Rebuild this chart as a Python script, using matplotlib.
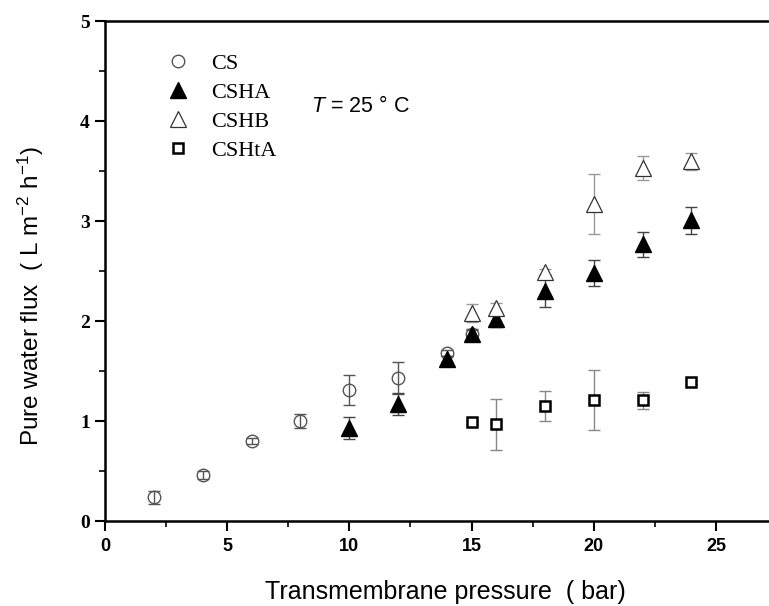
import matplotlib
matplotlib.use("Agg")
import matplotlib.pyplot as plt
from matplotlib.ticker import MultipleLocator

plt.rcParams['mathtext.fontset'] = 'custom'
plt.rcParams['mathtext.rm'] = 'Liberation Sans'
plt.rcParams['mathtext.it'] = 'Liberation Sans:italic'
plt.rcParams['font.family'] = ['Liberation Sans', 'DejaVu Sans']

# Data
cs_x = [2, 4, 6, 8, 10, 12, 14, 15]
cs_y = [0.24, 0.46, 0.80, 1.00, 1.31, 1.43, 1.68, 1.87]
cs_e = [0.065, 0.04, 0.03, 0.07, 0.15, 0.16, 0.03, 0.04]

csha_x = [10, 12, 14, 15, 16, 18, 20, 22, 24]
csha_y = [0.93, 1.17, 1.62, 1.87, 2.02, 2.30, 2.48, 2.77, 3.01]
csha_e = [0.11, 0.11, 0.03, 0.05, 0.08, 0.16, 0.13, 0.125, 0.135]

cshb_x = [15, 16, 18, 20, 22, 24]
cshb_y = [2.08, 2.13, 2.49, 3.17, 3.53, 3.60]
cshb_e = [0.09, 0.05, 0.03, 0.30, 0.12, 0.085]

cshta_x = [15, 16, 18, 20, 22, 24]
cshta_y = [0.99, 0.97, 1.15, 1.21, 1.21, 1.39]
cshta_e = [0.02, 0.255, 0.15, 0.30, 0.085, 0.02]

labels = ['CS', 'CSHA', 'CSHB', 'CSHtA']

fig = plt.figure(figsize=(7.69, 6.06), dpi=100)
ax = fig.add_axes([105 / 769, 85 / 606, 672 / 769, 500 / 606])

ekw = dict(fmt='none', elinewidth=1.0, capsize=4, capthick=1.0, zorder=2)
ax.errorbar(cs_x, cs_y, yerr=cs_e, ecolor='#555555', **ekw)
ax.errorbar(csha_x, csha_y, yerr=csha_e, ecolor='#444444', **ekw)
ax.errorbar(cshb_x, cshb_y, yerr=cshb_e, ecolor='#999999', **ekw)
ax.errorbar(cshta_x, cshta_y, yerr=cshta_e, ecolor='#888888', **ekw)

h1, = ax.plot(cs_x, cs_y, 'o', ms=9, mfc='none', mec='#555555', mew=1.0,
              ls='none', zorder=3)
h2, = ax.plot(csha_x, csha_y, '^', ms=11, mfc='black', mec='black', mew=1.0,
              ls='none', zorder=4)
h3, = ax.plot(cshb_x, cshb_y, '^', ms=11, mfc='white', mec='#333333', mew=0.9,
              ls='none', zorder=4)
h4, = ax.plot(cshta_x, cshta_y, 's', ms=6.5, mfc='white', mec='black', mew=1.8,
              ls='none', zorder=4)

leg = ax.legend([h1, h2, h3, h4], labels, loc='upper left',
                bbox_to_anchor=(0.092, 0.935), frameon=False,
                prop={'family': 'Liberation Serif', 'size': 16},
                handlelength=1.0, handletextpad=1.0, labelspacing=0.38,
                borderaxespad=0, borderpad=0)

ax.text(0.307, 0.83, r'$T$ = 25 ° C', transform=ax.transAxes, fontsize=15.5,
        ha='left', va='center', family='Liberation Sans')

ax.set_xlim(0, 27.5)
ax.set_ylim(0, 5)
ax.xaxis.set_major_locator(MultipleLocator(5))
ax.xaxis.set_minor_locator(MultipleLocator(2.5))
ax.yaxis.set_major_locator(MultipleLocator(1))
ax.yaxis.set_minor_locator(MultipleLocator(0.5))

for s in ax.spines.values():
    s.set_linewidth(1.8)
ax.tick_params(which='major', direction='out', length=7, width=1.5)
ax.tick_params(which='minor', direction='out', length=4, width=1.2)
ax.tick_params(axis='x', which='major', pad=5)
ax.tick_params(axis='y', which='major', pad=4)

for t in ax.get_xticklabels():
    t.set_fontfamily('Liberation Sans')
    t.set_fontweight('bold')
    t.set_fontsize(13)
for t in ax.get_yticklabels():
    t.set_fontfamily('Liberation Serif')
    t.set_fontweight('bold')
    t.set_fontsize(14)

ax.set_xlabel('Transmembrane pressure  ( bar)', fontsize=18, va='center')
ax.set_ylabel(r'Pure water flux  ( L m$^{-2}$ h$^{-1}$)', fontsize=17.5, va='center')
ax.xaxis.set_label_coords(0.507, -0.142)
ax.yaxis.set_label_coords(-0.110, 0.45)

fig.savefig('out.png', dpi=100)
